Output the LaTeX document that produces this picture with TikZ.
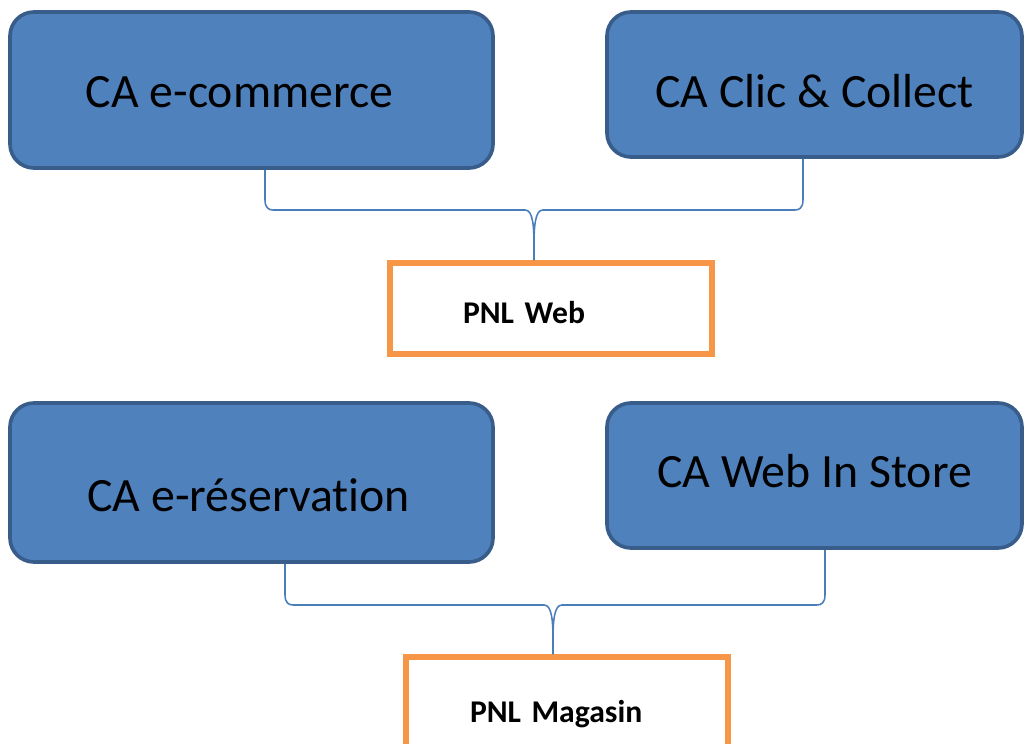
\documentclass[tikz,border=0pt]{standalone}
\usepackage{fontspec}
\setmainfont{Carlito}[Ligatures=NoCommon]
\usetikzlibrary{calc}

\definecolor{cafill}{HTML}{4F81BD}
\definecolor{caborder}{HTML}{385D8A}
\definecolor{pnlorange}{HTML}{F79646}
\definecolor{braceblue}{HTML}{4A7EBB}

% text lowered by #1 below the node centre
\newcommand{\boxtext}[2]{\raisebox{-#1}[0pt][0pt]{#2}}

\tikzset{
  cabox/.style={draw=caborder, fill=cafill, line width=2.6pt, rounded corners=0.6cm,
    font=\fontsize{34}{41}\selectfont, text=black},
  pnlbox/.style={draw=pnlorange, fill=white, line width=3.6pt, align=left,
    font=\bfseries\fontsize{22.5}{27}\selectfont, text=black},
  brace/.style={draw=braceblue, line width=1.1pt}
}

\begin{document}
\begin{tikzpicture}

        % Page frame
        \useasboundingbox (0,0) rectangle (25.625,-18.6);
        \clip (0,0) rectangle (25.625,-18.6);

        % Revenue boxes
        \node[cabox, minimum width=12.075cm, minimum height=3.9cm] (ecom) at (6.2875,-2.25) {\boxtext{0.45cm}{CA e-commerce}\hspace*{0.6cm}};
        \node[cabox, minimum width=10.375cm, minimum height=3.625cm] (clic) at (20.3625,-2.1125) {\boxtext{0.5875cm}{CA Clic \& Collect}};
        \node[cabox, minimum width=12.075cm, minimum height=3.975cm] (eresa) at (6.2875,-12.0625) {\boxtext{0.7375cm}{CA e-réservation}\hspace*{0.15cm}};
        \node[cabox, minimum width=10.375cm, minimum height=3.625cm] (wis) at (20.3625,-11.8875) {\boxtext{0.3125cm}{CA Web In Store}};

        % PNL boxes
        \node[pnlbox, text width=4.4cm, inner xsep=1.825cm, minimum height=2.275cm] (web) at (13.775,-7.7125) {\boxtext{0.3875cm}{PNL Web}};
        \node[pnlbox, text width=4.85cm, inner xsep=1.6cm, minimum height=2.6cm] (mag) at (14.175,-17.725) {\boxtext{0.325cm}{PNL Magasin}};

        % Brace for PNL Web
        \coordinate (e1) at ([xshift=0.3375cm]ecom.south);
        \coordinate (c1) at ([xshift=-0.2875cm]clic.south);
        \coordinate (m1) at ([xshift=-0.425cm]web.north);
        \coordinate (k1) at (m1 |- 0,-5.25);
        \coordinate (l1) at (e1 |- k1);
        \coordinate (r1) at (c1 |- k1);
        \draw[brace] (e1) -- ([yshift=0.25cm]l1) .. controls +(0,-0.2) and +(-0.1,0) .. ([xshift=0.2cm]l1) -- ([xshift=-0.22cm]k1)
          .. controls +(0.2,0) and +(0,0.45) .. ([yshift=-0.9cm]k1) -- (m1);
        \draw[brace] (c1) -- ([yshift=0.25cm]r1) .. controls +(0,-0.2) and +(0.1,0) .. ([xshift=-0.2cm]r1) -- ([xshift=0.22cm]k1)
          .. controls +(-0.2,0) and +(0,0.45) .. ([yshift=-0.9cm]k1);

        % Brace for PNL Magasin
        \coordinate (e2) at ([xshift=0.8375cm]eresa.south);
        \coordinate (c2) at ([xshift=0.2625cm]wis.south);
        \coordinate (m2) at ([xshift=-0.35cm]mag.north);
        \coordinate (k2) at (m2 |- 0,-15.125);
        \coordinate (l2) at (e2 |- k2);
        \coordinate (r2) at (c2 |- k2);
        \draw[brace] (e2) -- ([yshift=0.25cm]l2) .. controls +(0,-0.2) and +(-0.1,0) .. ([xshift=0.2cm]l2) -- ([xshift=-0.22cm]k2)
          .. controls +(0.2,0) and +(0,0.45) .. ([yshift=-0.9cm]k2) -- (m2);
        \draw[brace] (c2) -- ([yshift=0.25cm]r2) .. controls +(0,-0.2) and +(0.1,0) .. ([xshift=-0.2cm]r2) -- ([xshift=0.22cm]k2)
          .. controls +(-0.2,0) and +(0,0.45) .. ([yshift=-0.9cm]k2);

    \end{tikzpicture}
\end{document}
